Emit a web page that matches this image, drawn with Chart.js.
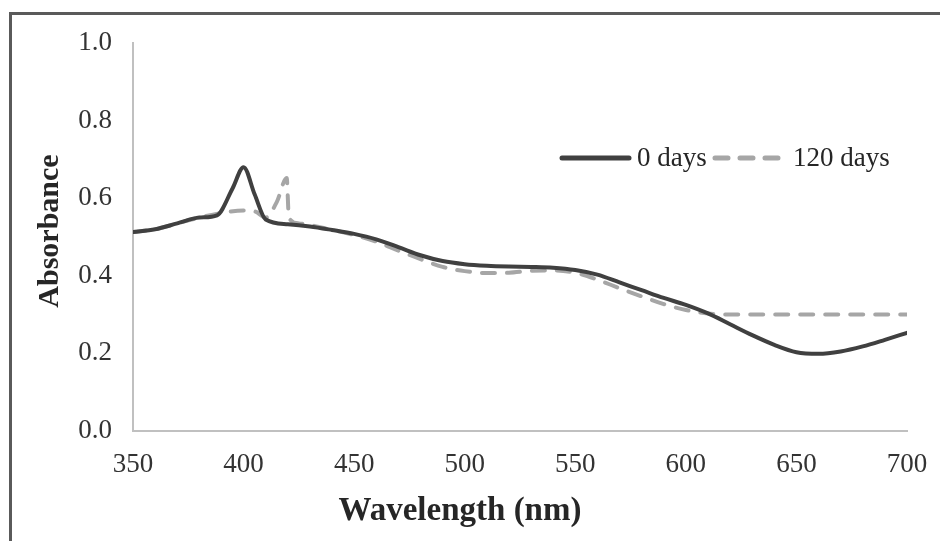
<!DOCTYPE html>
<html>
<head>
<meta charset="utf-8">
<script src="https://cdn.jsdelivr.net/npm/chart.js@4"></script>
<style>
  html, body { margin: 0; padding: 0; background: #fff; overflow: hidden; }
  #frame { position: absolute; left: 9px; top: 12px; width: 960px; height: 560px;
           border-left: 3px solid #5a5a5a; border-top: 3px solid #5a5a5a; }
  #wrap { position: absolute; left: 0; top: 0; width: 940px; height: 541px; }
</style>
</head>
<body>
<div id="frame"></div>
<div id="wrap"><canvas id="absChart" width="940" height="541"></canvas></div>
<script>
// Absorbans spektrumu: 0 gün / 120 gün
const wavelengths0 = [350, 360, 370, 380, 388, 395, 400, 405, 410, 420, 430, 440, 450, 460, 470, 480, 490, 500,
  510, 520, 530, 540, 550, 560, 570, 580, 590, 600, 610, 620, 630, 640, 650, 660, 670, 680, 690, 700];
const absorbance0 = [0.513, 0.52, 0.535, 0.55, 0.556, 0.625, 0.68, 0.61, 0.545, 0.533, 0.527, 0.518, 0.508, 0.494,
  0.474, 0.453, 0.438, 0.43, 0.426, 0.424, 0.423, 0.421, 0.415, 0.403, 0.383, 0.363, 0.343, 0.325, 0.303, 0.275,
  0.247, 0.222, 0.203, 0.199, 0.205, 0.218, 0.235, 0.253];

const wavelengths120 = [350, 360, 370, 380, 390, 400, 405, 410, 415, 419.5, 420.5, 425, 440, 450, 460, 470, 480, 490,
  500, 510, 520, 530, 540, 550, 560, 570, 580, 590, 600, 610, 620, 640, 660, 680, 700];
const absorbance120 = [0.513, 0.52, 0.535, 0.55, 0.562, 0.568, 0.566, 0.55, 0.59, 0.652, 0.55, 0.535, 0.518, 0.505,
  0.488, 0.465, 0.443, 0.423, 0.412, 0.407, 0.408, 0.413, 0.414, 0.408, 0.39, 0.368, 0.347, 0.327, 0.312, 0.303,
  0.3, 0.3, 0.3, 0.3, 0.3];

const seriesLabels = ['0 days', '120 days'];
const xTicks = { min: 350, max: 700, step: 50 };
const yTicks = { min: 0, max: 1, step: 0.2 };

const serif = "'Liberation Serif', 'DejaVu Serif', serif";
const solidColor = '#404040';
const dashColor = '#a6a6a6';
const dashPattern = [13, 12];

const toPoints = (xs, ys) => xs.map((x, i) => ({ x: x, y: ys[i] }));

// Lejant ve eksen başlıkları elle çiziliyor
const extras = {
  id: 'extras',
  afterDraw(chart) {
    const ctx = chart.ctx;
    ctx.save();
    ctx.lineCap = 'round';
    ctx.lineWidth = 5;
    ctx.strokeStyle = solidColor;
    ctx.beginPath(); ctx.moveTo(562, 158); ctx.lineTo(629, 158); ctx.stroke();
    ctx.strokeStyle = dashColor;
    ctx.setLineDash(dashPattern);
    ctx.beginPath(); ctx.moveTo(715, 158); ctx.lineTo(781, 158); ctx.stroke();
    ctx.setLineDash([]);

    ctx.fillStyle = '#262626';
    ctx.font = '27px ' + serif;
    ctx.textBaseline = 'middle';
    ctx.textAlign = 'left';
    ctx.fillText(seriesLabels[0], 637, 159);
    ctx.fillText(seriesLabels[1], 793, 159);

    ctx.font = 'bold 33px ' + serif;
    ctx.textAlign = 'center';
    ctx.fillText('Wavelength (nm)', 460, 511);
    ctx.translate(50, 231);
    ctx.rotate(-Math.PI / 2);
    ctx.font = 'bold 30px ' + serif;
    ctx.fillText('Absorbance', 0, 0);
    ctx.restore();
  }
};

new Chart(document.getElementById('absChart'), {
  type: 'line',
  data: {
    datasets: [
      {
        label: seriesLabels[0],
        data: toPoints(wavelengths0, absorbance0),
        borderColor: solidColor,
        borderWidth: 4,
        pointRadius: 0,
        cubicInterpolationMode: 'monotone',
        borderCapStyle: 'round',
        borderJoinStyle: 'round'
      },
      {
        label: seriesLabels[1],
        data: toPoints(wavelengths120, absorbance120),
        borderColor: dashColor,
        borderWidth: 4,
        borderDash: dashPattern,
        pointRadius: 0,
        cubicInterpolationMode: 'monotone',
        borderCapStyle: 'round',
        borderJoinStyle: 'round'
      }
    ]
  },
  options: {
    responsive: false,
    animation: false,
    layout: { padding: { left: 0, top: 43, right: 33, bottom: 0 } },
    plugins: { legend: { display: false }, tooltip: { enabled: false } },
    scales: {
      x: {
        type: 'linear',
        min: xTicks.min, max: xTicks.max,
        ticks: { stepSize: xTicks.step, color: '#333', font: { family: serif, size: 27 }, padding: 18 },
        grid: { color: 'transparent', drawTicks: false },
        border: { display: true, color: '#c0c0c0', width: 2 },
        afterFit(s) { s.height = 110; s.paddingLeft = 0; s.paddingRight = 0; }
      },
      y: {
        min: yTicks.min, max: yTicks.max,
        ticks: { stepSize: yTicks.step, color: '#333', font: { family: serif, size: 27 }, padding: 21,
                 callback: v => v.toFixed(1) },
        grid: { color: 'transparent', drawTicks: false },
        border: { display: true, color: '#c0c0c0', width: 2 },
        afterFit(s) { s.width = 133; }
      }
    }
  },
  plugins: [extras]
});
</script>
</body>
</html>
